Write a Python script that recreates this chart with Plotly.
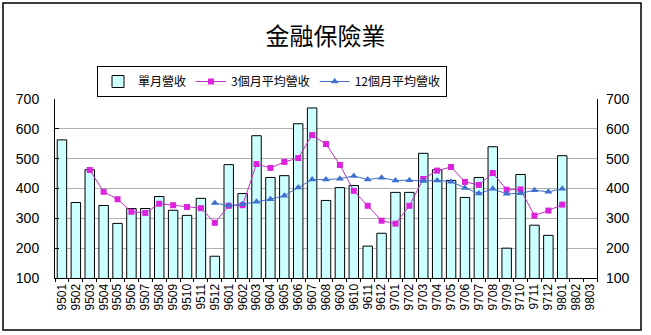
import plotly.graph_objects as go

categories = ["9501","9502","9503","9504","9505","9506","9507","9508","9509","9510","9511","9512",
              "9601","9602","9603","9604","9605","9606","9607","9608","9609","9610","9611","9612",
              "9701","9702","9703","9704","9705","9706","9707","9708","9709","9710","9711","9712",
              "9801","9802","9803"]

monthly = [563,353,463,343,283,333,333,373,327,310,367,173,
           480,383,577,437,443,617,670,360,403,410,207,250,
           387,387,518,463,427,370,437,540,200,447,277,243,
           510,None,None]

avg3 = [None,None,462,389,364,322,318,349,344,338,334,285,
        342,344,482,469,489,502,579,549,479,392,342,292,
        282,342,432,460,472,422,412,452,396,397,309,326,
        346,None,None]

avg12 = [None]*11 + [351,
         343,347,356,364,376,403,430,430,433,442,430,436,
         427,428,425,427,423,402,383,399,382,384,394,389,
         399,None,None]

series_names = ["單月營收", "3個月平均營收", "12個月平均營收"]
title_text = "金融保險業"
y_ticks = [100, 200, 300, 400, 500, 600, 700]

cjk = "Noto Sans CJK TC, Noto Sans CJK SC, sans-serif"
num = "Liberation Sans, Arial, sans-serif"

fig = go.Figure()
fig.add_trace(go.Bar(x=categories, y=monthly, name=series_names[0],
                     marker=dict(color="#CCFFFF", line=dict(color="black", width=1))))
fig.add_trace(go.Scatter(x=categories, y=avg3, name=series_names[1], mode="lines+markers",
                         line=dict(color="#C030C0", width=1),
                         marker=dict(symbol="square", size=6, color="#DD22DD")))
fig.add_trace(go.Scatter(x=categories, y=avg12, name=series_names[2], mode="lines+markers",
                         yaxis="y2",
                         line=dict(color="#3F6FC8", width=1),
                         marker=dict(symbol="triangle-up", size=7, color="#3F6FCF")))

L, R, T, B = 55, 597, 99, 278
W, H = 651, 335
pw, ph = R - L, B - T

def px(x):
    return (x - L) / pw

def py(y):
    return (B - y) / ph

fig.update_layout(
    width=W, height=H,
    margin=dict(l=L, r=W - R, t=T, b=H - B),
    paper_bgcolor="white", plot_bgcolor="white",
    bargap=0.32,
    title=dict(text=title_text, x=0.5, xref="container", xanchor="center",
               y=1 - 37 / H, yref="container", yanchor="middle",
               font=dict(family=cjk, size=24, color="black")),
    legend=dict(orientation="h", x=px(97), y=py(66), xanchor="left", yanchor="top",
                bordercolor="black", borderwidth=1, bgcolor="white",
                font=dict(family=cjk, size=12, color="black"),
                itemwidth=30, tracegroupgap=0),
    xaxis=dict(type="category", tickangle=-90, showline=True, linecolor="black", linewidth=1,
               tickmode="linear", dtick=1, tick0=0,
               ticks="outside", ticklen=3, tickcolor="black", tickson="boundaries",
               tickfont=dict(family=num, size=12, color="black"), showgrid=False,
               range=[-0.5, len(categories) - 0.5]),
    yaxis=dict(range=[100, 700], tickvals=y_ticks, showline=True, linecolor="black",
               linewidth=1, mirror=True, ticks="inside", ticklen=4, tickcolor="black",
               showgrid=True, gridcolor="#B0B0B0", gridwidth=1, zeroline=False,
               tickfont=dict(family=num, size=14, color="black"), ticklabelstandoff=12),
    yaxis2=dict(range=[100, 700], tickvals=y_ticks, overlaying="y", side="right",
                showgrid=False, showline=False, zeroline=False, ticks="",
                tickfont=dict(family=num, size=14, color="black"), ticklabelstandoff=8),
    shapes=[dict(type="rect", xref="paper", yref="paper",
                 x0=px(3), x1=px(641), y0=py(330), y1=py(3),
                 line=dict(color="black", width=1.5), fillcolor="rgba(0,0,0,0)", layer="below")],
)

fig.write_html("out.html")
